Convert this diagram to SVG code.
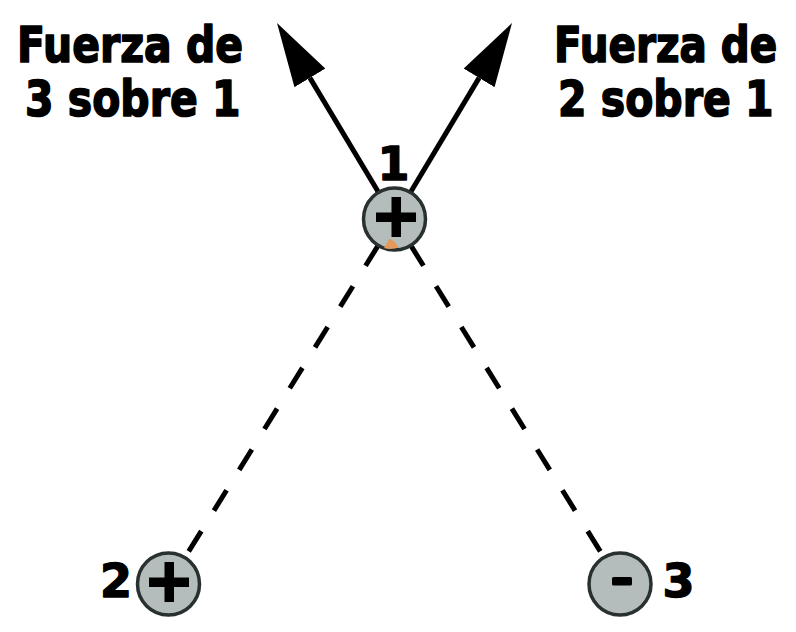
<svg xmlns="http://www.w3.org/2000/svg" width="796" height="632" viewBox="0 0 796 632">
<style>
.t{font-family:"DejaVu Sans","Liberation Sans",sans-serif;font-weight:bold;font-size:50px;fill:#000;stroke:#000;stroke-width:1.7;stroke-linejoin:round}
.n{font-family:"DejaVu Sans","Liberation Sans",sans-serif;font-weight:bold;font-size:46px;fill:#000;stroke:#000;stroke-width:1.4;stroke-linejoin:round;text-anchor:middle}
.dash{stroke:#000;stroke-width:5;stroke-dasharray:24 24;fill:none}
.force{stroke:#000;stroke-width:5;fill:none;marker-end:url(#head)}
.charge{fill:#b5bdbc;stroke:#283030;stroke-width:3.5}
.sign{fill:#000}
</style>
<defs>
<marker id="head" markerUnits="userSpaceOnUse" markerWidth="64" markerHeight="36" refX="0" refY="18" orient="auto" viewBox="0 0 64 36">
<path d="M0,0 L64,18 L0,36 Z" fill="#000"/>
</marker>
</defs>
<rect width="796" height="632" fill="#fff"/>
<g id="labels">
<text class="t" transform="translate(17,62) scale(0.82,1)">Fuerza de</text>
<text class="t" transform="translate(25,116) scale(0.82,1)">3 sobre 1</text>
<text class="t" transform="translate(554,62) scale(0.81,1)">Fuerza de</text>
<text class="t" transform="translate(558,116) scale(0.82,1)">2 sobre 1</text>
</g>
<g id="connectors">
<line class="dash" x1="378.2" y1="245.4" x2="188.7" y2="551.4"/>
<line class="dash" x1="410.8" y1="245.4" x2="600.3" y2="551.4"/>
<line class="force" x1="394.5" y1="219" x2="309.9" y2="77.9"/>
<line class="force" x1="394.5" y1="219" x2="479.1" y2="77.9"/>
</g>
<g id="charge1">
<circle class="charge" cx="394.5" cy="219" r="31"/>
<path d="M384,248 L389.5,238.5 Q395,241 398.5,247.5 Q391,250 384,248 Z" fill="#e39a5c"/>
<rect class="sign" x="376" y="212.5" width="40" height="9.5"/>
<rect class="sign" x="391.5" y="197" width="9.5" height="40"/>
<text class="n" x="393.5" y="180">1</text>
</g>
<g id="charge2">
<circle class="charge" cx="168.5" cy="584" r="31"/>
<rect class="sign" x="149" y="577.5" width="40" height="9.5"/>
<rect class="sign" x="164.5" y="562" width="9.5" height="40"/>
<text class="n" x="116" y="597">2</text>
</g>
<g id="charge3">
<circle class="charge" cx="620" cy="584" r="31"/>
<rect class="sign" x="612" y="577" width="20" height="8.5" rx="1.5"/>
<text class="n" x="678.5" y="597">3</text>
</g>
</svg>
